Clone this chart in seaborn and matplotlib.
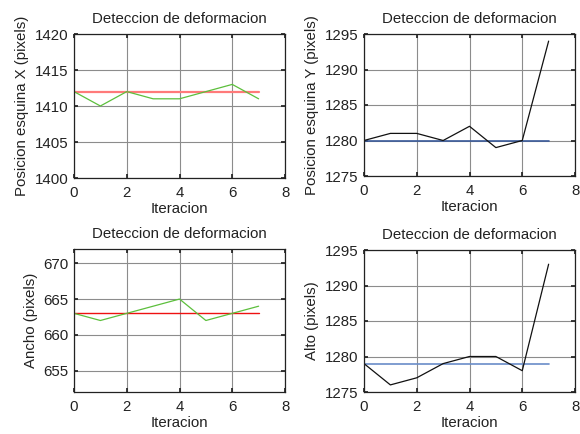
import numpy as np
import pandas as pd
import seaborn as sns
import matplotlib
matplotlib.use("Agg")
import matplotlib.pyplot as plt

iteracion = [0, 1, 2, 3, 4, 5, 6, 7]
pos_x = [1412, 1410, 1412, 1411, 1411, 1412, 1413, 1411]
ref_x = [1412] * 8
pos_y = [1280, 1281, 1281, 1280, 1282, 1279, 1280, 1294]
ref_y = [1280] * 8
ancho = [663, 662, 663, 664, 665, 662, 663, 664]
ref_ancho = [663] * 8
alto = [1279, 1276, 1277, 1279, 1280, 1280, 1278, 1293]
ref_alto = [1279] * 8

sns.set_theme(style="white")
plt.rcParams['font.family'] = ['Liberation Sans', 'DejaVu Sans']

fig = plt.figure(figsize=(5.8, 4.34), dpi=100)
W, H = 580, 434
boxes = [
    (74, 34, 285, 178),
    (364, 34, 575, 176),
    (74, 249, 285, 392),
    (364, 250, 575, 392),
]
specs = [
    (pos_x, ref_x, "#5cbf3c", "#ff7a7a", 1.6, (1400, 1420), [1400, 1405, 1410, 1415, 1420], "Posicion esquina X (pixels)"),
    (pos_y, ref_y, "#111111", "#3a5a9a", 1.2, (1275, 1295), [1275, 1280, 1285, 1290, 1295], "Posicion esquina Y (pixels)"),
    (ancho, ref_ancho, "#5cbf3c", "#ee1111", 1.0, (652, 672), [655, 660, 665, 670], "Ancho (pixels)"),
    (alto, ref_alto, "#111111", "#6a8cc8", 1.2, (1275, 1295), [1275, 1280, 1285, 1290, 1295], "Alto (pixels)"),
]
fs = 10.8
for (l, t, r, b), (vals, ref, c1, c2, lw2, ylim, yt, ylab) in zip(boxes, specs):
    ax = fig.add_axes([l / W, 1 - b / H, (r - l) / W, (b - t) / H])
    df = pd.DataFrame({"it": iteracion, "v": vals, "ref": ref})
    sns.lineplot(data=df, x="it", y="ref", ax=ax, color=c2, lw=lw2)
    sns.lineplot(data=df, x="it", y="v", ax=ax, color=c1, lw=0.9)
    ax.set_xlim(0, 8)
    ax.set_ylim(*ylim)
    ax.set_xticks([0, 2, 4, 6, 8])
    ax.set_yticks(yt)
    ax.grid(True, color="#8c8c8c", lw=0.8)
    ax.tick_params(direction="in", length=3, labelsize=fs, top=True, right=True,
                   left=True, bottom=True, colors="#222222")
    ax.tick_params(axis="x", pad=5.5)
    ax.tick_params(axis="y", pad=4)
    for s in ax.spines.values():
        s.set_color("#222222")
        s.set_linewidth(0.9)
    ax.set_title("Deteccion de deformacion", fontsize=fs, color="#222222", pad=8)
    ax.set_xlabel("Iteracion", fontsize=fs, color="#222222", labelpad=2)
    ax.set_ylabel(ylab, fontsize=fs, color="#222222", labelpad=4)

fig.savefig("out.png", dpi=100, facecolor="white")
